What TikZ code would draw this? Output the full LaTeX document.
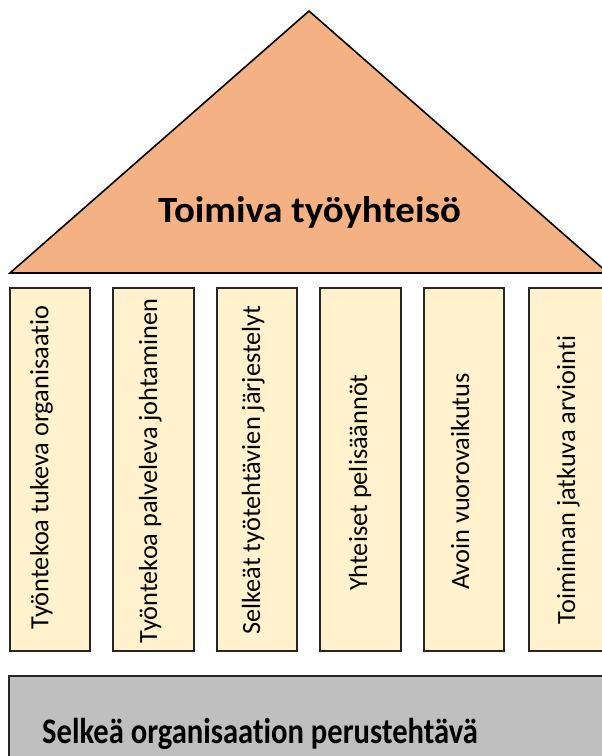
\documentclass[tikz,border=0pt]{standalone}
\usepackage{fontspec}
\setmainfont{Carlito}[RawFeature={-liga;-clig}]
\begin{document}
\begin{tikzpicture}[x=1pt,y=-1pt,
  roof/.style={draw=black,line width=1.6pt,fill=roofc,line join=miter},
  pillar/.style={draw=black!85,line width=1.3pt,fill=pillarc},
  base/.style={draw=black!85,line width=1.3pt,fill=basec},
  ptext/.style={rotate=90,font=\fontsize{26.3}{30}\selectfont,inner sep=0pt,anchor=base},
  ttext/.style={font=\bfseries\fontsize{37}{44}\selectfont,inner sep=0pt,anchor=base,xscale=1.05},
  btext/.style={font=\bfseries\fontsize{36}{42}\selectfont,inner sep=0pt,anchor=base,xscale=0.85}]
\definecolor{roofc}{HTML}{F4B183}
\definecolor{pillarc}{HTML}{FFF2CC}
\definecolor{basec}{HTML}{BFBFBF}
\useasboundingbox (0,0) rectangle (602,756);
\begin{scope}
\clip (0,0) rectangle (602,756);
% roof
\draw[roof] (309,11) -- (608,273) -- (10,273) -- cycle;
\node[ttext] (roofT) at (309.5,222) {Toimiva työyhteisö};
% pillars
\draw[pillar] (10,288) rectangle (90,651);
\draw[pillar] (113,288) rectangle (194,651);
\draw[pillar] (217,288) rectangle (297,651);
\draw[pillar] (320,288) rectangle (401,651);
\draw[pillar] (424,288) rectangle (504,651);
\draw[pillar] (529,288) rectangle (609,651);
\node[ptext] (p1) at (48.5,467.5) {Työntekoa tukeva organisaatio};
\node[ptext] (p2) at (157,471) {Työntekoa palveleva johtaminen};
\node[ptext] (p3) at (260,470) {Selkeät työtehtävien järjestelyt};
\node[ptext] (p4) at (367,482.5) {Yhteiset pelisäännöt};
\node[ptext] (p5) at (469,481.5) {Avoin vuorovaikutus};
\node[ptext] (p6) at (575,480) {Toiminnan jatkuva arviointi};
% base
\draw[base] (9,676) rectangle (620,780);
\node[btext] (baseT) at (260,743) {Selkeä organisaation perustehtävä};
\end{scope}
\end{tikzpicture}
\end{document}
